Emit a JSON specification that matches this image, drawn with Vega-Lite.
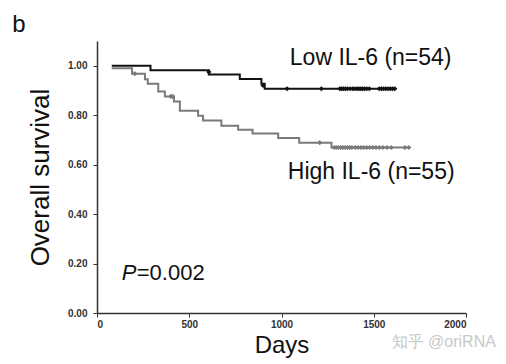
{
  "$schema": "https://vega.github.io/schema/vega-lite/v6.json",
  "width": 369,
  "height": 272,
  "autosize": "none",
  "padding": {"left": 97, "top": 41, "right": 40, "bottom": 51},
  "background": "white",
  "config": {
    "view": {"stroke": null},
    "font": "Liberation Sans"
  },
  "datasets": {
    "curves": [
      {"group": "Low", "day": 80, "surv": 1.0},
      {"group": "Low", "day": 290, "surv": 0.982},
      {"group": "Low", "day": 606, "surv": 0.965},
      {"group": "Low", "day": 774, "surv": 0.946},
      {"group": "Low", "day": 891, "surv": 0.927},
      {"group": "Low", "day": 909, "surv": 0.907},
      {"group": "Low", "day": 1622, "surv": 0.907},
      {"group": "High", "day": 80, "surv": 0.99},
      {"group": "High", "day": 190, "surv": 0.968},
      {"group": "High", "day": 260, "surv": 0.945},
      {"group": "High", "day": 275, "surv": 0.927},
      {"group": "High", "day": 332, "surv": 0.896},
      {"group": "High", "day": 368, "surv": 0.876},
      {"group": "High", "day": 417, "surv": 0.855},
      {"group": "High", "day": 449, "surv": 0.818},
      {"group": "High", "day": 548, "surv": 0.798},
      {"group": "High", "day": 575, "surv": 0.779},
      {"group": "High", "day": 674, "surv": 0.757},
      {"group": "High", "day": 765, "surv": 0.741},
      {"group": "High", "day": 843, "surv": 0.726},
      {"group": "High", "day": 982, "surv": 0.708},
      {"group": "High", "day": 1096, "surv": 0.689},
      {"group": "High", "day": 1271, "surv": 0.669},
      {"group": "High", "day": 1695, "surv": 0.669}
    ],
    "censors": [
      {"group": "Low", "day": 606, "surv": 0.975},
      {"group": "Low", "day": 900, "surv": 0.92},
      {"group": "Low", "day": 1030, "surv": 0.907},
      {"group": "Low", "day": 1216, "surv": 0.907},
      {"group": "Low", "day": 1316, "surv": 0.907},
      {"group": "Low", "day": 1326, "surv": 0.907},
      {"group": "Low", "day": 1336, "surv": 0.907},
      {"group": "Low", "day": 1346, "surv": 0.907},
      {"group": "Low", "day": 1358, "surv": 0.907},
      {"group": "Low", "day": 1372, "surv": 0.907},
      {"group": "Low", "day": 1386, "surv": 0.907},
      {"group": "Low", "day": 1398, "surv": 0.907},
      {"group": "Low", "day": 1410, "surv": 0.907},
      {"group": "Low", "day": 1420, "surv": 0.907},
      {"group": "Low", "day": 1430, "surv": 0.907},
      {"group": "Low", "day": 1440, "surv": 0.907},
      {"group": "Low", "day": 1450, "surv": 0.907},
      {"group": "Low", "day": 1462, "surv": 0.907},
      {"group": "Low", "day": 1476, "surv": 0.907},
      {"group": "Low", "day": 1530, "surv": 0.907},
      {"group": "Low", "day": 1542, "surv": 0.907},
      {"group": "Low", "day": 1554, "surv": 0.907},
      {"group": "Low", "day": 1566, "surv": 0.907},
      {"group": "Low", "day": 1578, "surv": 0.907},
      {"group": "Low", "day": 1590, "surv": 0.907},
      {"group": "Low", "day": 1602, "surv": 0.907},
      {"group": "Low", "day": 1614, "surv": 0.907},
      {"group": "High", "day": 205, "surv": 0.968},
      {"group": "High", "day": 400, "surv": 0.876},
      {"group": "High", "day": 410, "surv": 0.876},
      {"group": "High", "day": 1207, "surv": 0.689},
      {"group": "High", "day": 1285, "surv": 0.669},
      {"group": "High", "day": 1297, "surv": 0.669},
      {"group": "High", "day": 1309, "surv": 0.669},
      {"group": "High", "day": 1321, "surv": 0.669},
      {"group": "High", "day": 1333, "surv": 0.669},
      {"group": "High", "day": 1345, "surv": 0.669},
      {"group": "High", "day": 1357, "surv": 0.669},
      {"group": "High", "day": 1369, "surv": 0.669},
      {"group": "High", "day": 1381, "surv": 0.669},
      {"group": "High", "day": 1400, "surv": 0.669},
      {"group": "High", "day": 1415, "surv": 0.669},
      {"group": "High", "day": 1430, "surv": 0.669},
      {"group": "High", "day": 1445, "surv": 0.669},
      {"group": "High", "day": 1462, "surv": 0.669},
      {"group": "High", "day": 1478, "surv": 0.669},
      {"group": "High", "day": 1495, "surv": 0.669},
      {"group": "High", "day": 1512, "surv": 0.669},
      {"group": "High", "day": 1530, "surv": 0.669},
      {"group": "High", "day": 1550, "surv": 0.669},
      {"group": "High", "day": 1572, "surv": 0.669},
      {"group": "High", "day": 1595, "surv": 0.669},
      {"group": "High", "day": 1668, "surv": 0.669},
      {"group": "High", "day": 1690, "surv": 0.669}
    ],
    "labels": [
      {"day": 1045, "surv": 1.032, "text": "Low IL-6 (n=54)", "color": "#111111", "size": 23},
      {"day": 1034, "surv": 0.571, "text": "High IL-6 (n=55)", "color": "#111111", "size": 23},
      {"day": -460, "surv": 1.166, "text": "b", "color": "#111111", "size": 24},
      {"day": 1597, "surv": -0.117, "text": "知乎 @oriRNA", "color": "#c8c8c8", "size": 16}
    ]
  },
  "layer": [
    {
      "data": {"name": "curves"},
      "mark": {"type": "line", "interpolate": "step-after", "strokeWidth": 2},
      "encoding": {
        "x": {
          "field": "day", "type": "quantitative",
          "scale": {"domain": [0, 2000], "nice": false},
          "axis": {
            "values": [0, 500, 1000, 1500, 2000], "format": "d",
            "title": "Days", "titleFontSize": 24, "titleFontWeight": "normal", "titleColor": "#111111",
            "titlePadding": 4,
            "labelFontSize": 10, "labelFontWeight": "bold", "labelColor": "#333333",
            "domainColor": "#333333", "domainWidth": 1.5, "tickColor": "#333333", "tickSize": 4, "grid": false
          }
        },
        "y": {
          "field": "surv", "type": "quantitative",
          "scale": {"domain": [0, 1.1], "nice": false},
          "axis": {
            "values": [0, 0.2, 0.4, 0.6, 0.8, 1.0], "format": ".2f",
            "title": "Overall survival", "titleFontSize": 26, "titleFontWeight": "normal", "titleColor": "#111111",
            "titlePadding": 14,
            "labelFontSize": 10, "labelFontWeight": "bold", "labelColor": "#333333", "labelPadding": 6,
            "domainColor": "#333333", "domainWidth": 1.5, "tickColor": "#333333", "tickSize": 4, "grid": false
          }
        },
        "color": {
          "field": "group", "type": "nominal",
          "scale": {"domain": ["Low", "High"], "range": ["#111111", "#7a7a7a"]},
          "legend": null
        }
      }
    },
    {
      "data": {"name": "censors"},
      "mark": {"type": "point", "shape": "diamond", "filled": true, "size": 26, "opacity": 1},
      "encoding": {
        "x": {"field": "day", "type": "quantitative"},
        "y": {"field": "surv", "type": "quantitative"},
        "color": {"field": "group", "type": "nominal", "legend": null}
      }
    },
    {
      "data": {"name": "labels"},
      "mark": {"type": "text", "align": "left", "baseline": "middle", "clip": false},
      "encoding": {
        "x": {"field": "day", "type": "quantitative"},
        "y": {"field": "surv", "type": "quantitative"},
        "text": {"field": "text"},
        "size": {"field": "size", "type": "quantitative", "scale": null},
        "color": {"field": "color", "type": "nominal", "scale": null}
      }
    },
    {
      "data": {"values": [{"day": 134, "surv": 0.162, "p": "P", "rest": "=0.002"}]},
      "layer": [
        {
          "mark": {"type": "text", "align": "left", "baseline": "middle", "fontSize": 22, "fontStyle": "italic", "color": "#111111"},
          "encoding": {
            "x": {"field": "day", "type": "quantitative"},
            "y": {"field": "surv", "type": "quantitative"},
            "text": {"field": "p"}
          }
        },
        {
          "mark": {"type": "text", "align": "left", "baseline": "middle", "fontSize": 22, "color": "#111111", "dx": 15},
          "encoding": {
            "x": {"field": "day", "type": "quantitative"},
            "y": {"field": "surv", "type": "quantitative"},
            "text": {"field": "rest"}
          }
        }
      ]
    }
  ]
}
